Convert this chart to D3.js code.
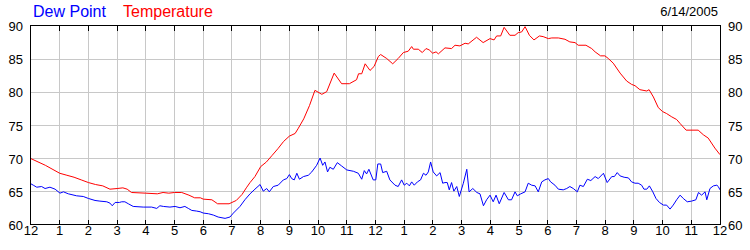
<!DOCTYPE html>
<html>
<head>
<meta charset="utf-8">
<script src="https://cdn.jsdelivr.net/npm/d3@7"></script>
<style>
  body { margin: 0; background: #fff; }
  text { font-family: "Liberation Sans", Arial, sans-serif; }
</style>
</head>
<body>
<div id="chart"></div>
<script>
// hour labels along the bottom (0..24 hours)
var hourLabels = ["12","1","2","3","4","5","6","7","8","9","10","11","12","1","2","3","4","5","6","7","8","9","10","11","12"];
var yTicks = [60, 65, 70, 75, 80, 85, 90];
var seriesNames = ["Dew Point", "Temperature"];
var dateLabel = "6/14/2005";

// temperature readings: hour of day, degrees F
var tempHours = [0,0.5,1,1.25,1.5,1.75,2,2.25,2.5,2.75,3,3.2,3.35,3.5,4,4.4,4.6,4.8,5,5.25,5.5,5.7,5.9,6,6.3,6.5,6.9,7,7.15,7.35,7.5,7.63,7.8,8,8.2,8.4,8.6,8.8,9,9.2,9.3,9.5,9.7,
  9.89,10.13,10.3,10.56,10.82,11.09,11.34,11.41,11.52,11.64,11.81,11.95,12.1,12.18,12.39,12.6,12.79,12.97,13.14,13.26,13.32,13.49,13.63,13.76,13.87,13.99,14.11,14.19,
  14.42,14.65,14.77,14.94,15.12,15.23,15.52,15.75,15.99,16.13,16.22,16.36,16.48,16.68,16.86,16.97,17.09,17.21,17.36,17.52,17.71,17.84,18.02,18.14,18.37,18.6,18.77,
  18.95,19.06,19.33,19.53,19.65,19.84,19.99,20.11,20.28,20.52,20.75,20.92,21.04,21.21,21.45,21.53,21.68,21.85,22,22.14,22.32,22.49,22.61,22.82,23.24,23.42,23.59,23.82,24];
var tempValues = [70.0,69.0,67.8,67.5,67.2,66.8,66.4,66.1,65.9,65.4,65.5,65.6,65.4,64.9,64.8,64.7,64.9,64.8,64.9,64.9,64.5,64.1,64.1,63.9,63.8,63.2,63.2,63.4,63.7,64.6,65.6,66.4,67.3,68.8,69.5,70.5,71.5,72.6,73.4,73.8,74.5,76.0,78.0,
  80.3,79.7,80.1,82.9,81.3,81.3,81.9,82.8,82.8,84.3,83.3,83.9,85.4,85.7,85.1,84.3,85.1,86.0,86.2,86.9,86.5,86.5,86.0,86.6,86.4,85.9,86.1,85.8,
  86.7,86.6,87.1,87.0,87.4,87.3,88.3,87.5,88.1,87.9,88.5,88.5,89.8,88.6,88.6,89.0,89.1,89.9,88.6,87.9,88.5,88.4,88.1,88.2,88.2,88.0,87.6,
  87.5,87.1,87.1,86.6,86.1,85.5,85.5,85.1,84.4,82.9,81.7,81.2,81.0,80.4,80.2,80.4,79.3,77.7,77.1,76.8,76.3,75.9,75.3,74.3,74.3,73.6,73.1,71.6,70.6];

// dew point readings
var dewHours = [0,0.08,0.2,0.37,0.49,0.66,0.84,1.01,1.13,1.3,1.59,1.82,2,2.23,2.4,2.64,2.75,2.83,2.93,3.08,3.16,3.27,3.39,3.56,3.91,4.2,4.38,4.49,4.61,4.84,5.02,5.19,5.36,5.48,
  5.6,5.77,5.89,6,6.18,6.35,6.52,6.76,6.93,7.05,7.28,7.45,7.63,7.8,7.98,8.09,8.21,8.3,8.44,8.61,8.79,8.91,9,9.08,9.17,9.26,9.35,9.49,9.66,9.78,9.95,10.07,10.16,10.24,
  10.33,10.41,10.53,10.67,10.82,11,11.23,11.4,11.52,11.61,11.69,11.77,11.92,12.01,12.08,12.18,12.25,12.39,12.5,12.68,12.79,12.91,13,13.09,13.18,13.26,13.35,13.46,13.57,
  13.67,13.76,13.84,13.92,14.01,14.13,14.25,14.34,14.42,14.5,14.57,14.65,14.73,14.83,14.92,15.06,15.18,15.26,15.39,15.53,15.64,15.76,15.87,15.99,16.1,16.2,16.31,16.48,
  16.63,16.74,16.86,16.94,17.06,17.21,17.32,17.44,17.56,17.67,17.79,17.9,18.02,18.1,18.25,18.37,18.54,18.66,18.77,18.89,19.03,19.12,19.24,19.38,19.5,19.65,19.76,19.94,
  20.07,20.23,20.32,20.42,20.52,20.66,20.81,20.92,21.04,21.15,21.27,21.35,21.45,21.54,21.66,21.77,21.89,22.03,22.14,22.26,22.37,22.49,22.61,22.72,22.86,23.01,23.16,
  23.25,23.36,23.48,23.54,23.65,23.77,23.89,23.94,24];
var dewValues = [66.2,66.0,65.7,65.8,65.5,65.7,65.4,64.8,65.0,64.7,64.4,64.3,64.0,63.7,63.6,63.5,63.3,62.9,63.4,63.4,63.5,63.5,63.2,62.8,62.7,62.7,62.5,62.9,62.8,62.7,62.8,62.6,62.8,62.5,
  62.2,62.1,62.0,61.8,61.7,61.5,61.2,61.0,61.2,61.8,62.8,63.8,64.7,65.4,66.1,65.1,65.5,65.0,65.8,66.0,66.8,67.0,67.6,67.0,66.8,67.8,66.9,67.3,67.5,68.0,69.0,70.1,69.0,69.5,
  68.0,68.7,68.4,69.4,68.9,68.3,68.1,67.8,66.9,68.2,67.7,68.4,66.8,66.8,69.2,69.2,67.9,68.1,66.8,66.0,65.8,66.8,66.0,66.3,65.9,66.5,66.0,66.5,66.8,
  67.8,67.5,68.0,69.5,68.0,67.4,67.9,66.3,66.4,66.4,65.3,66.4,65.1,65.8,64.3,66.3,68.4,65.0,65.5,64.9,64.7,62.9,63.8,64.5,63.5,64.5,63.2,64.9,
  63.8,63.8,65.0,64.4,64.7,65.0,66.3,66.0,65.9,65.0,66.5,66.8,67.0,66.5,66.0,65.4,65.3,65.5,65.8,65.5,65.0,66.0,65.8,66.9,66.7,67.3,67.0,67.8,
  66.4,67.3,67.3,67.9,67.4,67.2,67.1,66.5,66.3,66.3,66.0,65.4,65.4,65.9,65.0,64.0,63.4,63.0,63.0,62.4,63.0,63.8,64.5,64.0,63.5,63.6,63.8,
  64.9,64.5,65.0,63.8,65.5,65.9,66.0,65.8,65.3];

var W = 750, H = 250;
var margin = {top: 26, right: 30, bottom: 25, left: 31};

var svg = d3.select("#chart").append("svg")
    .attr("width", W)
    .attr("height", H);

var x = d3.scaleLinear().domain([0, 24]).range([margin.left, W - margin.right]);
var y = d3.scaleLinear().domain([60, 90]).range([H - margin.bottom, margin.top]);

// snap to the pixel grid so 1px lines stay sharp
function crisp(v) { return Math.floor(v) + 0.5; }

var hours = d3.range(0, 25);
var inner = hours.slice(1, 24);

// grid
svg.append("g").selectAll("line.vg")
  .data(inner)
  .enter().append("line")
  .attr("x1", function(d){ return crisp(x(d)); })
  .attr("x2", function(d){ return crisp(x(d)); })
  .attr("y1", y(90)).attr("y2", y(60))
  .attr("stroke", "#c8c8c8");

svg.append("g").selectAll("line.hg")
  .data(yTicks.slice(1, -1))
  .enter().append("line")
  .attr("x1", x(0)).attr("x2", x(24))
  .attr("y1", function(d){ return crisp(y(d)); })
  .attr("y2", function(d){ return crisp(y(d)); })
  .attr("stroke", "#c8c8c8");

// tick marks, inside the frame at top and bottom
svg.append("g").selectAll("line.tb")
  .data(inner)
  .enter().append("line")
  .attr("x1", function(d){ return crisp(x(d)); })
  .attr("x2", function(d){ return crisp(x(d)); })
  .attr("y1", y(60)).attr("y2", y(60) - 5)
  .attr("stroke", "#000");
svg.append("g").selectAll("line.tt")
  .data(inner)
  .enter().append("line")
  .attr("x1", function(d){ return crisp(x(d)); })
  .attr("x2", function(d){ return crisp(x(d)); })
  .attr("y1", y(90)).attr("y2", y(90) + 5)
  .attr("stroke", "#000");

// lines
var line = d3.line()
  .x(function(d){ return x(d[0]); })
  .y(function(d){ return y(d[1]); });

svg.append("path")
  .datum(d3.zip(dewHours, dewValues))
  .attr("d", line)
  .attr("fill", "none")
  .attr("stroke", "#0000ff")
  .attr("stroke-width", 1);

svg.append("path")
  .datum(d3.zip(tempHours, tempValues))
  .attr("d", line)
  .attr("fill", "none")
  .attr("stroke", "#ff0000")
  .attr("stroke-width", 1);

// frame
var fx0 = x(0) - 0.5, fx1 = crisp(x(24));
var fy0 = y(90) - 0.5, fy1 = y(60) - 0.5;
svg.append("rect")
  .attr("x", fx0).attr("y", fy0)
  .attr("width", fx1 - fx0)
  .attr("height", fy1 - fy0)
  .attr("fill", "none")
  .attr("stroke", "#000");

// axis labels
svg.append("g").selectAll("text")
  .data(hours)
  .enter().append("text")
  .attr("x", function(d){ return x(d); })
  .attr("y", H - 15)
  .attr("text-anchor", "middle")
  .attr("font-size", "13px")
  .text(function(d){ return hourLabels[d]; });

svg.append("g").selectAll("text")
  .data(yTicks)
  .enter().append("text")
  .attr("x", x(0) - 8)
  .attr("y", function(d){ return y(d) + 5; })
  .attr("text-anchor", "end")
  .attr("font-size", "13px")
  .text(function(d){ return d; });

svg.append("g").selectAll("text")
  .data(yTicks)
  .enter().append("text")
  .attr("x", x(24) + 8)
  .attr("y", function(d){ return y(d) + 5; })
  .attr("text-anchor", "start")
  .attr("font-size", "13px")
  .text(function(d){ return d; });

// legend and date
svg.append("text")
  .attr("x", 33).attr("y", 17)
  .attr("font-size", "16px")
  .attr("fill", "#0000ff")
  .text(seriesNames[0]);
svg.append("text")
  .attr("x", 123).attr("y", 17)
  .attr("font-size", "16px")
  .attr("fill", "#ff0000")
  .text(seriesNames[1]);
svg.append("text")
  .attr("x", 718).attr("y", 16)
  .attr("text-anchor", "end")
  .attr("font-size", "13px")
  .text(dateLabel);
</script>
</body>
</html>
